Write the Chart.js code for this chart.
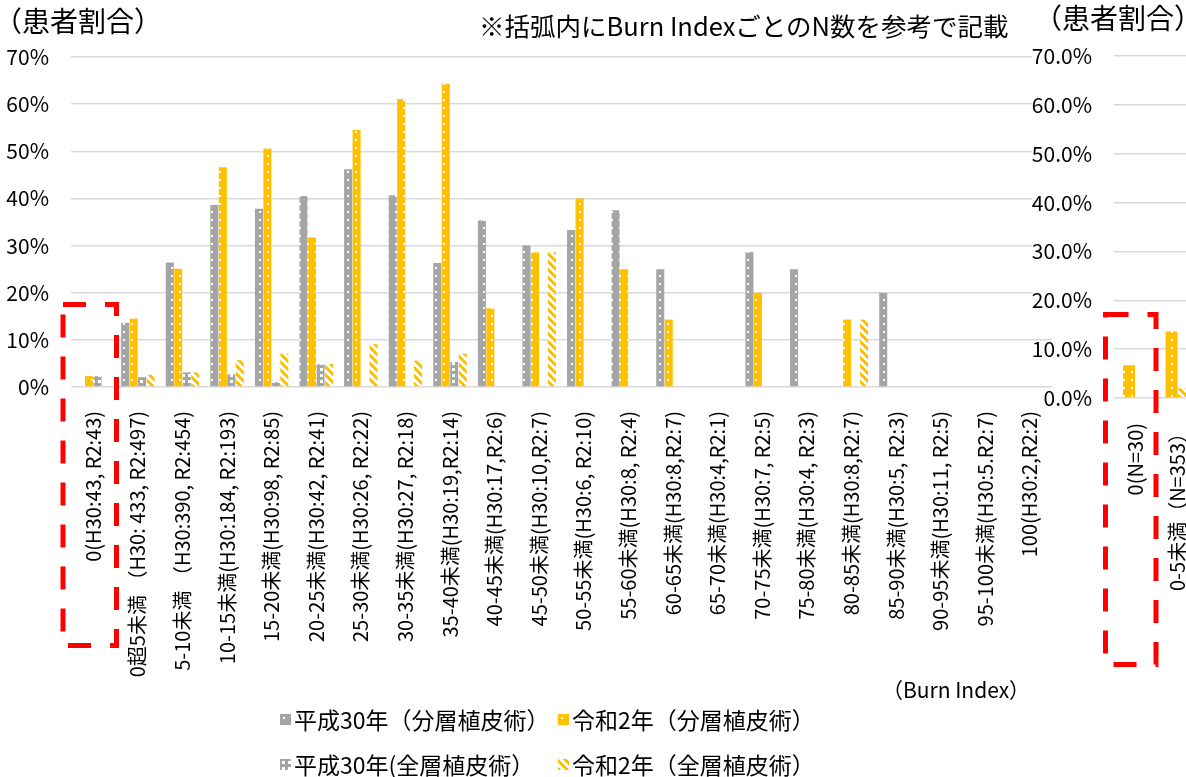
<!DOCTYPE html>
<html><head><meta charset="utf-8">
<script src="https://cdn.jsdelivr.net/npm/chart.js@4.4.1/dist/chart.umd.min.js"></script>
<style>
html,body{margin:0;padding:0;background:#fff;width:1186px;height:777px;overflow:hidden;position:relative;font-family:"Noto Sans CJK JP","Noto Sans",sans-serif;color:#000}
#c1{position:absolute;left:0;top:0;z-index:1}
#c2{position:absolute;left:1000px;top:0;z-index:2}
.t{position:absolute;white-space:nowrap;line-height:1;z-index:3}
.leg{position:absolute;display:flex;align-items:center;white-space:nowrap;font-size:23px;line-height:1;z-index:3}
.leg canvas{margin-right:3px}
</style></head><body>
<canvas id="c1" width="1186" height="777"></canvas>
<canvas id="c2" width="230" height="777"></canvas>
<div class="t" style="left:-6px;top:6px;font-size:28px">（患者割合）</div>
<div class="t" style="left:479px;top:12px;font-size:25.5px">※括弧内にBurn IndexごとのN数を参考で記載</div>
<div class="t" style="left:1034px;top:3px;font-size:28px">（患者割合）</div>
<div class="t" style="left:882px;top:679px;font-size:21px">（Burn Index）</div>
<div class="leg" style="left:280px;top:708px"><canvas class="sw" data-p="grayDot" width="11" height="11"></canvas>平成30年（分層植皮術）</div>
<div class="leg" style="left:558px;top:708px"><canvas class="sw" data-p="yellowDot" width="11" height="11"></canvas>令和2年（分層植皮術）</div>
<div class="leg" style="left:280px;top:753px"><canvas class="sw" data-p="grayFull" width="11" height="11"></canvas>平成30年(全層植皮術）</div>
<div class="leg" style="left:558px;top:753px"><canvas class="sw" data-p="yellowHatch" width="11" height="11"></canvas>令和2年（全層植皮術）</div>
<script>
// ---- data ----
const categories = [
  "0(H30:43, R2:43)",
  "0超5未満 （H30: 433, R2:497)",
  "5-10未満 （H30:390, R2:454)",
  "10-15未満(H30:184, R2:193)",
  "15-20未満(H30:98, R2:85)",
  "20-25未満(H30:42, R2:41)",
  "25-30未満(H30:26, R2:22)",
  "30-35未満(H30:27, R2:18)",
  "35-40未満(H30:19,R2:14)",
  "40-45未満(H30:17,R2:6)",
  "45-50未満(H30:10,R2:7)",
  "50-55未満(H30:6, R2:10)",
  "55-60未満(H30:8, R2:4)",
  "60-65未満(H30:8,R2:7)",
  "65-70未満(H30:4,R2:1)",
  "70-75未満(H30:7, R2:5)",
  "75-80未満(H30:4, R2:3)",
  "80-85未満(H30:8,R2:7)",
  "85-90未満(H30:5, R2:3)",
  "90-95未満(H30:11, R2:5)",
  "95-100未満(H30:5.R2:7)",
  "100(H30:2,R2:2)"
];
const seriesNames = ["平成30年（分層植皮術）","令和2年（分層植皮術）","平成30年(全層植皮術）","令和2年（全層植皮術）"];
const h30Split = [0, 0.136, 0.264, 0.386, 0.378, 0.405, 0.462, 0.407, 0.263, 0.353, 0.300, 0.333, 0.375, 0.250, 0, 0.286, 0.250, 0, 0.200, 0, 0, 0];
const r2Split  = [0.023, 0.145, 0.251, 0.466, 0.506, 0.317, 0.545, 0.611, 0.643, 0.167, 0.286, 0.400, 0.250, 0.143, 0, 0.200, 0, 0.143, 0, 0, 0, 0];
const h30Full  = [0.023, 0.021, 0.031, 0.027, 0.010, 0.048, 0, 0, 0.053, 0, 0, 0, 0, 0, 0, 0, 0, 0, 0, 0, 0, 0];
const r2Full   = [0, 0.026, 0.031, 0.057, 0.071, 0.049, 0.091, 0.056, 0.071, 0, 0.286, 0, 0, 0, 0, 0, 0, 0.143, 0, 0, 0, 0];

const rightCategories = ["0(N=30)", "0-5未満（N=353）"];
const rightR2Split = [0.067, 0.136];
const rightR2Full  = [0, 0.020];

const yMax = 0.7, yStep = 0.1;

// ---- patterns ----
function makePatterns(ctx){
  function tile(w,h,draw){const c=document.createElement('canvas');c.width=w;c.height=h;const x=c.getContext('2d');draw(x,w,h);return ctx.createPattern(c,'repeat');}
  return {
    grayDot: tile(8,8,(x)=>{x.fillStyle='#A5A5A5';x.fillRect(0,0,8,8);x.fillStyle='#fff';x.fillRect(3,3,2,2);}),
    yellowDot: tile(8,8,(x)=>{x.fillStyle='#FFC000';x.fillRect(0,0,8,8);x.fillStyle='#fff';x.fillRect(3,3,2,2);}),
    grayFull: tile(6,6,(x)=>{x.fillStyle='#A5A5A5';x.fillRect(0,0,6,6);x.fillStyle='#fff';x.fillRect(2,2,3,3);}),
    yellowHatch: tile(8,8,(x)=>{x.fillStyle='#fff';x.fillRect(0,0,8,8);x.fillStyle='#FFC000';
      for(let yy=0;yy<8;yy++)for(let xx=0;xx<8;xx++){ if((((yy-xx)%8)+8)%8<4) x.fillRect(xx,yy,1,1);} })
  };
}

Chart.defaults.font.family = '"Noto Sans CJK JP","Noto Sans",sans-serif';
Chart.defaults.color = '#000';

const redBox = {
  id:'redBox',
  afterDraw(chart, args, o){
    const c = chart.ctx; c.save();
    c.strokeStyle = '#FF0000'; c.lineWidth = 5; c.setLineDash([23,19]);
    c.strokeRect(o.x, o.y, o.w, o.h); c.restore();
  }
};
const mask = {
  id:'mask',
  beforeDraw(chart, args, o){
    if(!o || !o.on) return;
    const c = chart.ctx; c.save(); c.fillStyle='#fff'; c.fillRect(o.x, 0, chart.width, o.h); c.restore();
  }
};

const ctx1 = document.getElementById('c1').getContext('2d');
const P1 = makePatterns(ctx1);

new Chart(ctx1, {
  type:'bar',
  data:{
    labels: categories,
    datasets:[
      {label:seriesNames[0], data:h30Split, backgroundColor:P1.grayDot},
      {label:seriesNames[1], data:r2Split, backgroundColor:P1.yellowDot},
      {label:seriesNames[2], data:h30Full, backgroundColor:P1.grayFull},
      {label:seriesNames[3], data:r2Full, backgroundColor:P1.yellowHatch}
    ]
  },
  options:{
    responsive:false, animation:false, devicePixelRatio:1,
    categoryPercentage:0.76, barPercentage:0.95,
    layout:{padding:{top:57,right:134,left:0,bottom:0}},
    plugins:{legend:{display:false}, tooltip:{enabled:false},
      redBox:{x:63,y:304.5,w:53.5,h:341}},
    scales:{
      x:{
        grid:{display:false}, border:{display:false},
        ticks:{autoSkip:false, minRotation:90, maxRotation:90, padding:16, font:{size:20}, color:'#000'},
        afterFit(s){ s.height = 390; }
      },
      y:{
        min:0, max:yMax,
        grid:{color:'#D9D9D9', lineWidth:1.5, drawTicks:false}, border:{display:false},
        ticks:{stepSize:yStep, padding:22, font:{size:21}, color:'#000',
          callback:(v)=>Math.round(v*100)+'%'},
        afterFit(s){ s.width = 71; }
      }
    }
  },
  plugins:[redBox]
});

const ctx2 = document.getElementById('c2').getContext('2d');
const P2 = makePatterns(ctx2);
new Chart(ctx2, {
  type:'bar',
  data:{
    labels: rightCategories,
    datasets:[
      {label:seriesNames[1], data:rightR2Split, backgroundColor:P2.yellowDot},
      {label:seriesNames[3], data:rightR2Full, backgroundColor:P2.yellowHatch}
    ]
  },
  options:{
    responsive:false, animation:false, devicePixelRatio:1,
    categoryPercentage:0.58, barPercentage:0.97,
    layout:{padding:{top:56,right:31,left:0,bottom:0}},
    plugins:{legend:{display:false}, tooltip:{enabled:false},
      mask:{on:true, x:32, h:320},
      redBox:{x:105.5,y:314.5,w:50.5,h:350}},
    scales:{
      x:{
        grid:{display:false}, border:{display:false},
        ticks:{autoSkip:false, minRotation:90, maxRotation:90, padding:17, font:{size:20}, color:'#000'},
        afterFit(s){ s.height = 379; }
      },
      y:{
        min:0, max:yMax,
        grid:{color:'#D9D9D9', lineWidth:1.5, drawTicks:false}, border:{display:false},
        ticks:{stepSize:yStep, padding:22, font:{size:21}, color:'#000',
          callback:(v)=>(v*100).toFixed(1)+'%'},
        afterFit(s){ s.width = 114; }
      }
    }
  },
  plugins:[mask, redBox]
});

// legend swatches
document.querySelectorAll('canvas.sw').forEach(cv=>{
  const c = cv.getContext('2d'); const P = makePatterns(c);
  c.fillStyle = P[cv.dataset.p]; c.fillRect(0,0,cv.width,cv.height);
});
</script>
</body></html>
